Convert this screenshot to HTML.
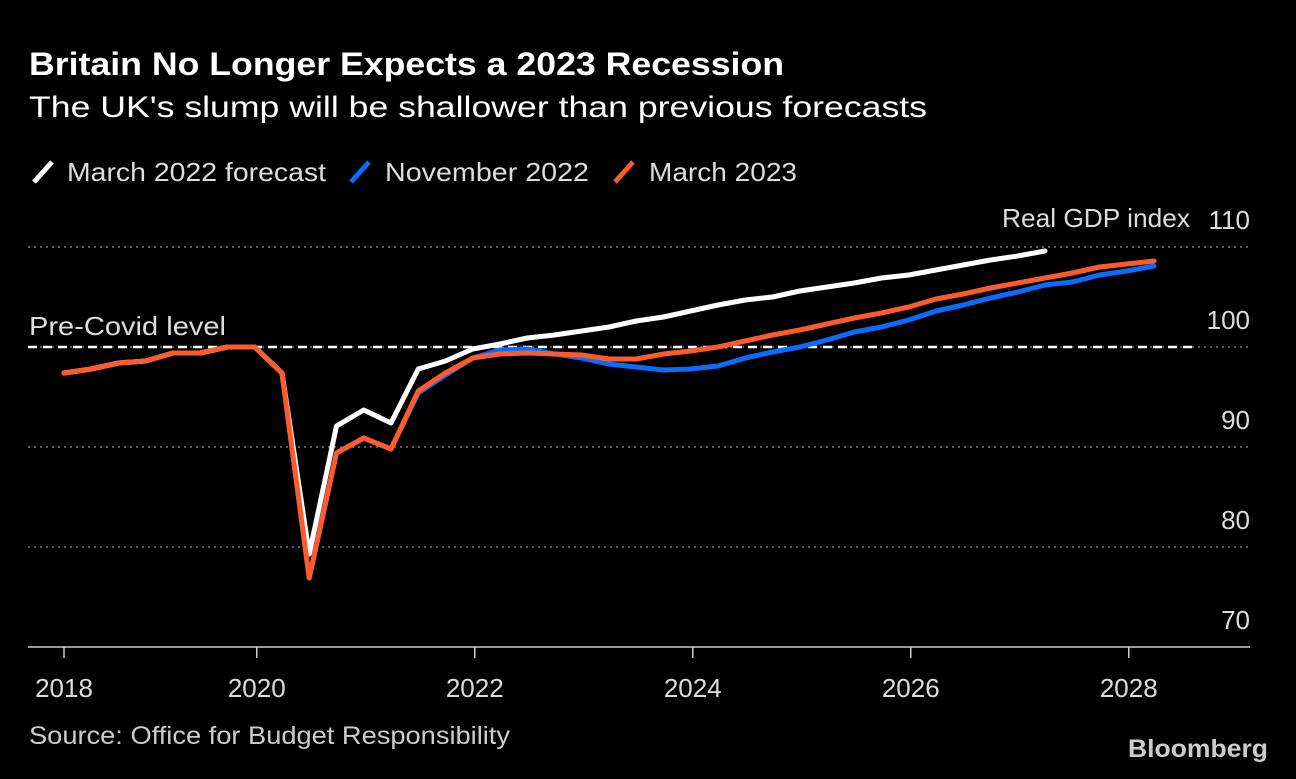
<!DOCTYPE html>
<html><head><meta charset="utf-8"><style>
body{margin:0;background:#000;width:1296px;height:774px;overflow:hidden;font-family:"Liberation Sans",sans-serif}
</style></head><body>
<svg width="1296" height="774" viewBox="0 0 1296 774" xmlns="http://www.w3.org/2000/svg" font-family="Liberation Sans, sans-serif">
<rect width="1296" height="774" fill="#000"/>
<text x="29" y="75" fill="#fff" font-size="32" font-weight="bold" textLength="755" lengthAdjust="spacingAndGlyphs">Britain No Longer Expects a 2023 Recession</text>
<text x="29" y="117" fill="#fff" font-size="30" textLength="898" lengthAdjust="spacingAndGlyphs">The UK's slump will be shallower than previous forecasts</text>
<g font-size="26" fill="#ddd">
<g><line x1="34" y1="182" x2="52" y2="162" stroke="#fff" stroke-width="5"/><text x="67" y="181" textLength="259" lengthAdjust="spacingAndGlyphs">March 2022 forecast</text></g>
<g><line x1="351" y1="182" x2="369" y2="162" stroke="#0a6cff" stroke-width="5"/><text x="385" y="181" textLength="204" lengthAdjust="spacingAndGlyphs">November 2022</text></g>
<g><line x1="615" y1="182" x2="633" y2="162" stroke="#ff5a2b" stroke-width="5"/><text x="649" y="181" textLength="148" lengthAdjust="spacingAndGlyphs">March 2023</text></g>
</g>
<g id="grid"></g>
<g id="series"></g>
<g id="xaxis"></g>
<text x="29" y="335" fill="#ddd" font-size="26" textLength="197" lengthAdjust="spacingAndGlyphs">Pre-Covid level</text>
<text x="1002" y="227" fill="#ddd" font-size="26" textLength="188" lengthAdjust="spacingAndGlyphs">Real GDP index</text>
<text x="29" y="744" fill="#ccc" font-size="25" textLength="481" lengthAdjust="spacingAndGlyphs">Source: Office for Budget Responsibility</text>
<text x="1128" y="757" fill="#ccc" font-size="25" font-weight="bold" textLength="140" lengthAdjust="spacingAndGlyphs">Bloomberg</text>
</svg>
<script>
const yTicks=[70,80,90,100,110];
const xTickLabels=["2018","2020","2022","2024","2026","2028"];
const xTickIndex=[0,7,15,23,31,39];
const march2023=[97.4,97.8,98.4,98.6,99.4,99.4,100,100,97.4,76.9,89.4,90.9,89.8,95.6,97.4,98.9,99.3,99.4,99.3,99.2,98.8,98.8,99.3,99.6,100.0,100.6,101.2,101.7,102.3,102.9,103.4,104.0,104.8,105.3,105.9,106.4,106.9,107.4,108.0,108.3,108.6];
const nov2022=[97.4,97.8,98.4,98.6,99.4,99.4,100,100,97.4,76.9,89.4,90.9,89.8,95.4,97.2,98.9,99.7,99.8,99.3,98.9,98.3,98.0,97.7,97.8,98.1,98.9,99.5,100.0,100.7,101.5,102.0,102.7,103.6,104.2,104.9,105.5,106.2,106.5,107.2,107.6,108.1];
const march2022=[97.4,97.8,98.4,98.6,99.4,99.4,100,100,97.4,79.3,92.1,93.7,92.4,97.8,98.6,99.8,100.3,100.9,101.2,101.6,102.0,102.6,103.0,103.6,104.2,104.7,105.0,105.6,106.0,106.4,106.9,107.2,107.7,108.2,108.7,109.1,109.6];
const X=i=>64+27.25*i;
const Y=v=>347-(v-100)*10;
const NS="http://www.w3.org/2000/svg";
function mk(t,a,p){const e=document.createElementNS(NS,t);for(const k in a)e.setAttribute(k,a[k]);p.appendChild(e);return e;}
const grid=document.getElementById('grid');
yTicks.forEach(v=>{
  if(v>70){const l=mk('line',{x1:28,x2:1250,y1:Y(v),y2:Y(v),stroke:'#777','stroke-width':1.5,'stroke-dasharray':'2 4'},grid);
  
  }
  const t=mk('text',{x:1250,y:Y(v)-18,fill:'#ddd','font-size':26,'text-anchor':'end'},grid);
  t.textContent=v;
  
  
});
const pc=mk('line',{x1:28,x2:1192,y1:Y(100),y2:Y(100),stroke:'#fff','stroke-width':2.5,'stroke-dasharray':'9 6'},grid);


const ser=document.getElementById('series');
[[nov2022,'#0a6cff','series-november-2022'],[march2022,'#fff','series-march-2022'],[march2023,'#ff5a2b','series-march-2023']].forEach(([d,c,n])=>{
  const p=mk('polyline',{points:d.map((v,i)=>X(i)+','+Y(v)).join(' '),fill:'none',stroke:c,'stroke-width':5,'stroke-linejoin':'round','stroke-linecap':'round'},ser);
  
  
});
const xa=document.getElementById('xaxis');
const ax=mk('line',{x1:28,x2:1250,y1:647,y2:647,stroke:'#ccc','stroke-width':1.5},xa);


xTickLabels.forEach((lab,k)=>{
  const x=k==0?64:X(xTickIndex[k])+2;
  mk('line',{x1:x,x2:x,y1:647,y2:658,stroke:'#ccc','stroke-width':1.5},xa);
  const t=mk('text',{x:x,y:697,fill:'#ddd','font-size':26,'text-anchor':'middle'},xa);
  t.textContent=lab;
  
  
});
</script>
</body></html>
